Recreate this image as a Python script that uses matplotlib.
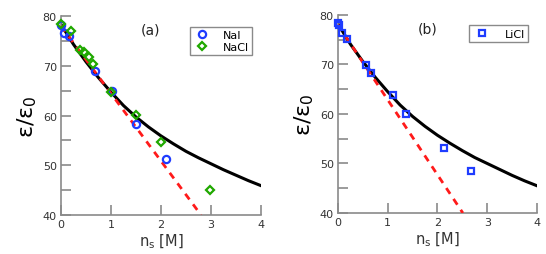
import matplotlib
matplotlib.use("Agg")
import matplotlib.pyplot as plt
from matplotlib.ticker import MultipleLocator

# ---- data ----
# panel (a)
nai_x = [0.0, 0.07, 0.17, 0.68, 1.02, 1.51, 2.11]
nai_y = [78.2, 76.6, 75.9, 68.9, 65.0, 58.2, 51.3]
nacl_x = [0.0, 0.2, 0.38, 0.47, 0.56, 0.65, 1.0, 1.51, 2.0, 2.99]
nacl_y = [78.4, 76.9, 73.1, 72.8, 71.8, 70.4, 64.7, 60.1, 54.6, 45.1]
fit_a_x = [0.0, 0.25, 0.5, 0.75, 1.0, 1.25, 1.5, 1.75, 2.0, 2.25, 2.5, 2.75, 3.0, 3.25, 3.5, 3.75, 4.0]
fit_a_y = [78.3, 74.3, 70.8, 67.6, 64.7, 62.0, 59.7, 57.7, 55.9, 54.3, 52.8, 51.5, 50.3, 49.1, 48.0, 46.9, 45.9]
lin_a_x = [0.0, 2.8]
lin_a_y = [78.0, 40.0]

# panel (b)
licl_x = [0.01, 0.03, 0.09, 0.18, 0.56, 0.66, 1.10, 1.37, 2.14, 2.67]
licl_y = [78.3, 77.9, 76.3, 75.2, 69.9, 68.3, 63.8, 60.0, 53.1, 48.4]
fit_b_x = fit_a_x
fit_b_y = [78.2, 74.1, 70.6, 67.4, 64.5, 61.8, 59.5, 57.5, 55.7, 54.1, 52.6, 51.2, 50.0, 48.8, 47.6, 46.5, 45.5]
lin_b_x = [0.0, 2.51]
lin_b_y = [78.0, 40.0]

blue = "#1f3cff"
green = "#1fa800"
red = "#ff1a1a"
gray = "#8a8a8a"

fig = plt.figure(figsize=(5.46, 2.55), dpi=100)
ax_a = fig.add_axes([0.1117, 0.1529, 0.3663, 0.7804])
ax_b = fig.add_axes([0.619, 0.1608, 0.3645, 0.7765])

def style(ax):
    ax.set_xlim(0, 4)
    ax.set_ylim(40, 80)
    ax.xaxis.set_major_locator(MultipleLocator(1))
    ax.yaxis.set_major_locator(MultipleLocator(10))
    ax.yaxis.set_minor_locator(MultipleLocator(5))
    for s in ("top", "right"):
        ax.spines[s].set_visible(False)
    for s in ("left", "bottom"):
        ax.spines[s].set_color(gray)
        ax.spines[s].set_linewidth(1.2)
    ax.tick_params(which="both", direction="in", color=gray, width=1.2,
                   labelsize=8, labelcolor="#333333", pad=3)
    ax.tick_params(which="major", length=7)
    ax.tick_params(which="minor", length=7)
    ax.set_xlabel(r"n$_\mathregular{s}$ [M]", fontsize=10.5, color="#333333", labelpad=2)
    ax.set_ylabel(r"ε/ε$_\mathregular{0}$", fontsize=16, labelpad=3)

style(ax_a)
style(ax_b)

# panel (a)
ax_a.plot(fit_a_x, fit_a_y, color="black", lw=2.2, zorder=2)
ax_a.plot(lin_a_x, lin_a_y, color=red, lw=2, ls=(0, (2.5, 2.2)), zorder=3)
ax_a.plot(nai_x, nai_y, "o", ms=5.2, mfc="none", mec=blue, mew=1.6,
          label="NaI", clip_on=False, zorder=4)
ax_a.plot(nacl_x, nacl_y, "D", ms=4.5, mfc="none", mec=green, mew=1.6,
          label="NaCl", clip_on=False, zorder=5)
ax_a.text(0.45, 0.93, "(a)", transform=ax_a.transAxes, fontsize=10,
          ha="center", va="center", color="#222222")
leg = ax_a.legend(loc="upper right", bbox_to_anchor=(0.985, 0.975), fontsize=8,
                  fancybox=False, edgecolor=gray, framealpha=1,
                  handletextpad=1.1, borderpad=0.3, labelspacing=0.2, handlelength=1.6)
leg.get_frame().set_linewidth(1.0)

# panel (b)
ax_b.plot(fit_b_x, fit_b_y, color="black", lw=2.2, zorder=2)
ax_b.plot(lin_b_x, lin_b_y, color=red, lw=2, ls=(0, (2.5, 2.2)), zorder=3)
ax_b.plot(licl_x, licl_y, "s", ms=4.8, mfc="none", mec=blue, mew=1.6,
          label="LiCl", clip_on=False, zorder=4)
ax_b.text(0.45, 0.93, "(b)", transform=ax_b.transAxes, fontsize=10,
          ha="center", va="center", color="#222222")
leg = ax_b.legend(loc="upper right", bbox_to_anchor=(0.985, 0.975), fontsize=8,
                  fancybox=False, edgecolor=gray, framealpha=1,
                  handletextpad=1.3, borderpad=0.3, handlelength=1.6)
leg.get_frame().set_linewidth(1.0)

fig.savefig("out.png", dpi=100)
